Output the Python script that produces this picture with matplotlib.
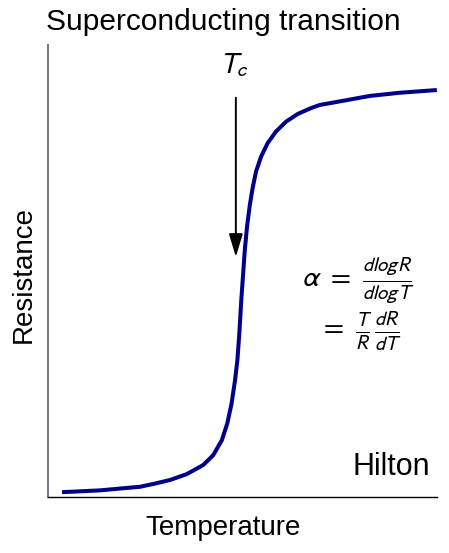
import matplotlib
matplotlib.use("Agg")
import matplotlib.pyplot as plt

plt.rcParams['font.family'] = ['Liberation Sans', 'DejaVu Sans']
plt.rcParams['mathtext.fontset'] = 'stixsans'

# R(T) curve across the transition (arbitrary units)
temperature = [0.36, 1.34, 1.85, 2.37, 2.75, 3.14, 3.57, 3.99, 4.25, 4.47, 4.61, 4.72,
               4.81, 4.87, 4.925, 4.97, 5.06, 5.12, 5.19, 5.26, 5.35, 5.48, 5.65, 5.86,
               6.12, 6.42, 6.76, 6.99, 7.51, 8.28, 9.05, 10.0]
resistance = [0.011, 0.015, 0.019, 0.023, 0.030, 0.038, 0.051, 0.071, 0.093, 0.126, 0.163, 0.207,
              0.259, 0.303, 0.369, 0.436, 0.546, 0.600, 0.646, 0.683, 0.720, 0.753, 0.783, 0.808,
              0.830, 0.847, 0.860, 0.867, 0.875, 0.887, 0.894, 0.900]
t_c = 4.83

fig = plt.figure(figsize=(4.49, 5.53), dpi=100)
ax = fig.add_axes([0.107, 0.101, 0.866, 0.818])
ax.plot(temperature, resistance, color='#00008b', linewidth=2.9,
        solid_capstyle='butt', solid_joinstyle='round')

ax.set_xlim(0, 10)
ax.set_ylim(0, 1)
ax.set_xticks([])
ax.set_yticks([])
ax.spines['top'].set_visible(False)
ax.spines['right'].set_visible(False)
ax.spines['left'].set_color('#7a7a7a')
ax.spines['left'].set_linewidth(1.5)
ax.spines['bottom'].set_color('black')
ax.spines['bottom'].set_linewidth(1.0)

ax.set_xlabel('Temperature', fontsize=20)
ax.xaxis.set_label_coords(0.451, -0.04)
ax.set_ylabel('Resistance', fontsize=20)
ax.yaxis.set_label_coords(-0.028, 0.493)
fig.text(0.102, 0.96, 'Superconducting transition', fontsize=21.5, va='center', ha='left')

# arrow marking T_c
ax.annotate('', xy=(t_c, 0.531), xytext=(t_c, 0.883),
            arrowprops=dict(arrowstyle='-|>,head_length=0.5,head_width=0.15',
                            color='black', lw=1.4, mutation_scale=28, shrinkA=0, shrinkB=0))
ax.text(t_c - 0.05, 0.955, r'$T_c$', fontsize=21, ha='center', va='center')

ax.text(6.52, 0.478, r'$\alpha\ =\ \frac{dlogR}{dlogT}$', fontsize=21, ha='left', va='center')
ax.text(6.98, 0.369, r'$=\ \frac{T}{R}\,\frac{dR}{dT}$', fontsize=21, ha='left', va='center')

ax.text(9.82, 0.066, 'Hilton', fontsize=22, ha='right', va='center')

fig.savefig('out.png', dpi=100)
